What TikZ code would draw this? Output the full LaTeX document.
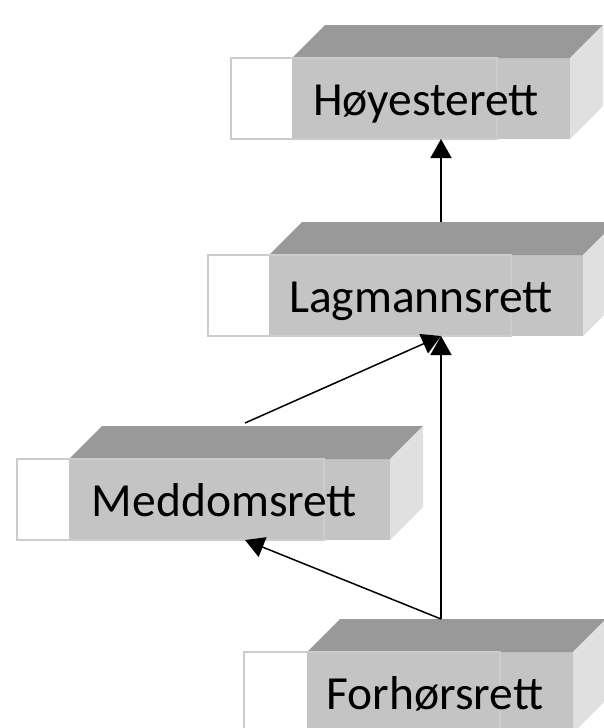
\documentclass[tikz,border=0pt]{standalone}
\usepackage{fontspec}
\setmainfont{Carlito}
\usetikzlibrary{arrows.meta,calc}
\definecolor{frontgray}{HTML}{C4C4C4}
\definecolor{topgray}{HTML}{999999}
\definecolor{sidegray}{HTML}{E0E0E0}
\definecolor{framegray}{HTML}{CCCCCC}
\tikzset{
    front/.style={fill=frontgray, inner sep=0pt, outer sep=0pt, minimum height=81pt},
    courtname/.style={anchor=base, inner sep=0pt, font=\fontsize{47.5}{56}\selectfont},
    appeal/.style={-{Triangle[length=19pt,width=21pt]}, line width=1.5pt},
}
\begin{document}
\begin{tikzpicture}[x=1pt,y=-1pt]
    \useasboundingbox (0,0) rectangle (604,728);
    \clip (0,0) rectangle (604,728);
    \foreach \court/\fl/\gl/\fr/\gr/\ytop/\txt in {hoy/231/292/497/570/58/Høyesterett, lag/208/269/511/583/255/Lagmannsrett, med/17/69/324/390/459/Meddomsrett, forh/244/307/500/573/652/Forhørsrett}{
        \fill[white] (\fl,\ytop) rectangle (\fr,\ytop+81);
        \node[front, minimum width={(\gr-\gl)*1pt}] at ({(\gl+\gr)/2},{\ytop+40.5}) (\court) {};
        \fill[topgray] (\court.north west) -- ++(33,-33) -- ($(\court.north east)+(33,-33)$) -- (\court.north east) -- cycle;
        \fill[sidegray] (\court.north east) -- ++(33,-33) -- ($(\court.south east)+(33,-33)$) -- (\court.south east) -- cycle;
        \draw[framegray, line width=1.2pt] (\fl,\ytop) rectangle (\fr,\ytop+81);
        \node[courtname] (\court-txt) at ($(\court.south)+(-5,-24)$) {\txt};
    }
    \coordinate (spine) at (441,0);
    \coordinate (medpost) at (245,0);
    \draw[appeal] ($(lag.north -| spine)+(0,-33)$) -- (hoy.south -| spine);
    \draw[appeal] ($(med.north -| medpost)+(0,-36)$) -- (lag.south -| spine);
    \draw[appeal] ($(forh.north -| spine)+(0,-33)$) -- (lag.south -| spine);
    \draw[appeal] ($(forh.north -| spine)+(0,-33)$) -- (med.south -| medpost);
\end{tikzpicture}
\end{document}
